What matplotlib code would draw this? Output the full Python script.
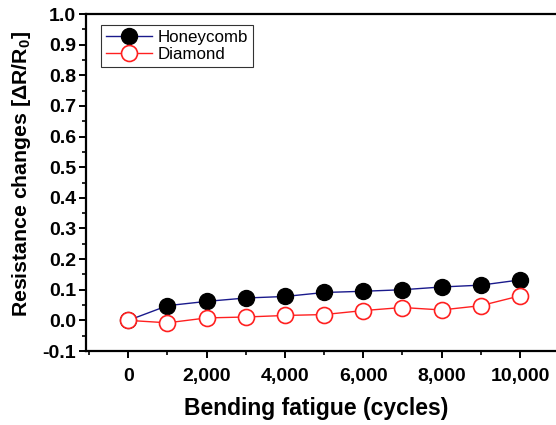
import matplotlib
matplotlib.use("Agg")
import matplotlib.pyplot as plt
from matplotlib.ticker import MultipleLocator, FormatStrFormatter, FuncFormatter

plt.rcParams['font.family'] = ['Liberation Sans', 'DejaVu Sans']
plt.rcParams['axes.unicode_minus'] = False
plt.rcParams['mathtext.fontset'] = 'custom'
plt.rcParams['mathtext.rm'] = 'Liberation Sans:bold'
plt.rcParams['mathtext.bf'] = 'Liberation Sans:bold'

# data
cycles = [0, 1000, 2000, 3000, 4000, 5000, 6000, 7000, 8000, 9000, 10000]
honeycomb = [0.0, 0.048, 0.062, 0.073, 0.078, 0.091, 0.095, 0.100, 0.109, 0.115, 0.132]
diamond = [0.0, -0.008, 0.008, 0.011, 0.016, 0.019, 0.032, 0.042, 0.034, 0.048, 0.080]

fig = plt.figure(figsize=(5.56, 4.25), dpi=100)
ax = fig.add_axes([0.1547, 0.1741, 0.8453, 0.7929])

ax.plot(cycles, honeycomb, color='#1a1a8c', lw=1.0, marker='o', ms=11.5,
        mfc='black', mec='black', label='Honeycomb', zorder=3)
ax.plot(cycles, diamond, color='#ff2020', lw=1.0, marker='o', ms=11.5,
        mfc='white', mec='#ff2020', mew=1.2, label='Diamond', zorder=4)

ax.set_xlim(-1080, 10920)
ax.set_ylim(-0.1, 1.0)

ax.xaxis.set_major_locator(MultipleLocator(2000))
ax.xaxis.set_minor_locator(MultipleLocator(1000))
ax.xaxis.set_major_formatter(FuncFormatter(lambda v, p: f"{int(v):,}"))
ax.yaxis.set_major_locator(MultipleLocator(0.1))
ax.yaxis.set_minor_locator(MultipleLocator(0.05))
ax.yaxis.set_major_formatter(FormatStrFormatter('%.1f'))

for s in ['left', 'bottom', 'top']:
    ax.spines[s].set_linewidth(1.6)
ax.spines['right'].set_visible(False)

ax.tick_params(which='major', direction='out', length=5, width=1.4,
               labelsize=14, top=False, right=False)
ax.tick_params(axis='x', which='major', pad=7)
ax.tick_params(axis='y', which='major', pad=2)
ax.tick_params(which='minor', direction='out', length=3, width=1.2,
               top=False, right=False)
for lab in ax.get_xticklabels() + ax.get_yticklabels():
    lab.set_fontweight('bold')

ax.set_xlabel('Bending fatigue (cycles)', fontsize=16.5, fontweight='bold')
ax.xaxis.set_label_coords(0.49, -0.137)
ax.set_ylabel(r'Resistance changes [ΔR/R$_0$]', fontsize=15.3, fontweight='bold')
ax.yaxis.set_label_coords(-0.113, 0.525)

leg = ax.legend(loc='upper left', bbox_to_anchor=(0.032, 0.967), borderaxespad=0,
                fontsize=12.2, frameon=True, fancybox=False, edgecolor='black',
                handlelength=2.7, handletextpad=0.35, borderpad=0.3,
                labelspacing=0.1)
leg.get_frame().set_linewidth(0.8)

fig.savefig('out.png', dpi=100)
